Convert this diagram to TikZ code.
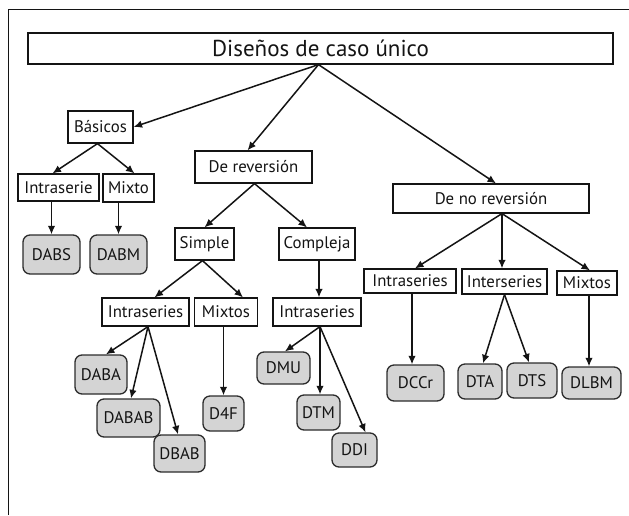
\documentclass[tikz,border=0pt]{standalone}
\usepackage{fontspec}
\setmainfont{PT Sans}
\usetikzlibrary{arrows.meta}
\definecolor{leaf}{RGB}{212,212,212}
\definecolor{ink}{RGB}{20,20,20}
\tikzset{
  box/.style={draw=ink, line width=1.2pt, fill=white, inner sep=0pt, text=ink,
    font=\fontsize{16.8}{19}\selectfont},
  leafbox/.style={draw=ink!90, line width=1.3pt, fill=leaf, rounded corners=7pt,
    inner sep=0pt, text=ink, font=\fontsize{16.8}{19}\selectfont},
  arr/.style={draw=ink, line width=1.5pt, -{Latex[length=8.5pt,width=7.5pt]}},
}
\begin{document}
\begin{tikzpicture}[x=1pt,y=-1pt]
\useasboundingbox (0,0) rectangle (629,515);
\draw[line width=1pt, ink] (8,515) -- (8,9) -- (629,9);

% level 0
\node[box, minimum width=585pt, minimum height=31pt, font=\fontsize{23}{26}\selectfont] (title) at (320.5,48.5) {Diseños de caso único};
% level 1
\node[box, minimum width=65pt, minimum height=32pt] (basicos) at (100.5,127) {Básicos};
\node[box, minimum width=117pt, minimum height=32pt] (derev) at (253.5,167) {De reversión};
\node[box, minimum width=196pt, minimum height=29pt] (denorev) at (491,198.5) {De no reversión};
% level 2
\node[box, minimum width=81pt, minimum height=27pt] (intraserie) at (58.5,187.5) {Intraserie};
\node[box, minimum width=51pt, minimum height=28pt] (mixto) at (128.5,188) {Mixto};
\node[box, minimum width=59pt, minimum height=32pt] (simple) at (204.5,244) {Simple};
\node[box, minimum width=76pt, minimum height=32pt] (compleja) at (317,244) {Compleja};
\node[box, minimum width=92pt, minimum height=24pt] (intraR) at (410,281) {Intraseries};
\node[box, minimum width=85pt, minimum height=25pt] (inter) at (504.5,281.5) {Interseries};
\node[box, minimum width=60pt, minimum height=24pt] (mixtosR) at (587,283) {Mixtos};
% level 3
\node[box, minimum width=87pt, minimum height=28pt] (intraL) at (145.5,312) {Intraseries};
\node[box, minimum width=63pt, minimum height=28pt] (mixtosL) at (226,312) {Mixtos};
\node[box, minimum width=88pt, minimum height=28pt] (intraM) at (317,312) {Intraseries};
% leaves
\node[leafbox, minimum width=57pt, minimum height=39pt] (dabs) at (51.5,254.5) {DABS};
\node[leafbox, minimum width=57pt, minimum height=39pt] (dabm) at (118.5,254.5) {DABM};
\node[leafbox, minimum width=52pt, minimum height=39pt] (daba) at (101,374.5) {DABA};
\node[leafbox, minimum width=63pt, minimum height=38pt] (dabab) at (128.5,418) {DABAB};
\node[leafbox, minimum width=51pt, minimum height=37pt] (dbab) at (179.5,453.5) {DBAB};
\node[leafbox, minimum width=41pt, minimum height=35pt] (d4f) at (223.5,413.5) {D4F};
\node[leafbox, minimum width=53pt, minimum height=32pt] (dmu) at (283.5,368) {DMU};
\node[leafbox, minimum width=43pt, minimum height=35pt] (dtm) at (318.5,412.5) {DTM};
\node[leafbox, minimum width=45pt, minimum height=34pt] (ddi) at (354.5,450) {DDI};
\node[leafbox, minimum width=57pt, minimum height=36pt] (dccr) at (415.5,383) {DCCr};
\node[leafbox, minimum width=44pt, minimum height=35pt] (dta) at (480,381.5) {DTA};
\node[leafbox, minimum width=50pt, minimum height=35pt] (dts) at (532,380.5) {DTS};
\node[leafbox, minimum width=59pt, minimum height=32pt] (dlbm) at (591.5,383) {DLBM};

% connectors
\coordinate (tapex) at ([xshift=-2pt]title.south);
\draw[arr] (tapex) -- (basicos.east);
\draw[arr] (tapex) -- ([xshift=-6pt]derev.north);
\draw[arr] (tapex) -- ([xshift=5pt]denorev.north);

\draw[arr] ([xshift=-3pt]basicos.south) -- ([xshift=-6pt]intraserie.north);
\draw[arr] ([xshift=-3pt]basicos.south) -- ([xshift=6pt]mixto.north);
\draw[arr] (intraserie.south -| dabs.north) -- (dabs.north);
\draw[arr] (mixto.south -| dabm.north) -- (dabm.north);

\draw[arr] ([xshift=1pt]derev.south) -- (simple.north);
\draw[arr] ([xshift=1pt]derev.south) -- ([xshift=-10pt]compleja.north);
\draw[arr] ([xshift=-2pt]simple.south) -- ([xshift=9pt]intraL.north);
\draw[arr] ([xshift=-2pt]simple.south) -- ([xshift=17pt]mixtosL.north);
\draw[arr] ([xshift=2pt]compleja.south) -- ([xshift=2pt]intraM.north);

\coordinate (lapex) at ([xshift=2.5pt]intraL.south);
\draw[arr] (lapex) -- ([xshift=5pt]daba.north);
\draw[arr] (lapex) -- ([xshift=2.5pt]dabab.north);
\draw[arr] (lapex) -- ([xshift=-1.5pt]dbab.north);
\draw[arr] (mixtosL.south -| d4f.north) -- (d4f.north);

\coordinate (mapex) at ([xshift=3pt]intraM.south);
\draw[arr] (mapex) -- ([xshift=1.5pt]dmu.north);
\draw[arr] (mapex) -- (mapex |- dtm.north);
\draw[arr] (mapex) -- ([xshift=11pt]ddi.north);

\coordinate (napex) at ([xshift=11pt]denorev.south);
\draw[arr] (napex) -- ([xshift=5pt]intraR.north);
\draw[arr] (napex) -- (napex |- inter.north);
\draw[arr] (napex) -- ([xshift=3pt]mixtosR.north);

\draw[arr] ([xshift=2pt]intraR.south) -- ([xshift=2pt]intraR.south |- dccr.north);
\coordinate (iapex) at (inter.south);
\draw[arr] (iapex) -- ([xshift=3pt]dta.north);
\draw[arr] (iapex) -- ([xshift=-3pt]dts.north);
\draw[arr] ([xshift=2pt]mixtosR.south) -- ([xshift=2pt]mixtosR.south |- dlbm.north);
\end{tikzpicture}
\end{document}
